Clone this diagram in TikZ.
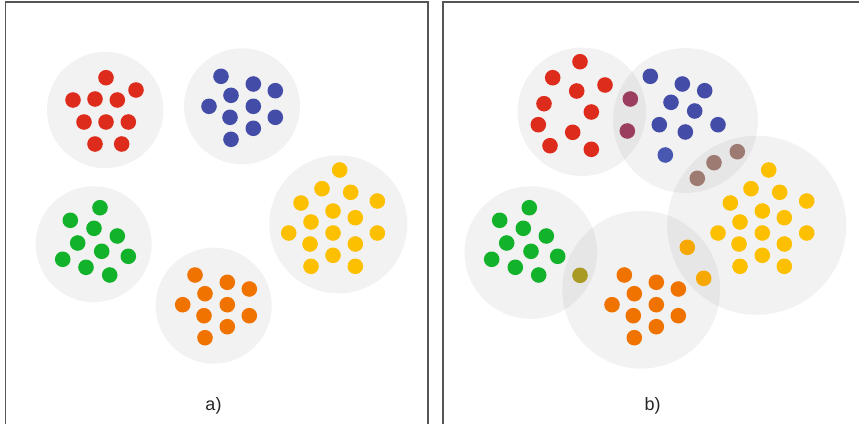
\documentclass[tikz,border=0pt]{standalone}
\usepackage{fontspec}
\setmainfont{Liberation Sans}
\definecolor{cred}{HTML}{DD2C1C}
\definecolor{cblue}{HTML}{434DA8}
\definecolor{cblueb}{HTML}{4858B2}
\definecolor{cgreen}{HTML}{12B22A}
\definecolor{corange}{HTML}{F07300}
\definecolor{cyellow}{HTML}{FCC000}
\definecolor{cpurple}{HTML}{9B3D5E}
\definecolor{cbrown}{HTML}{9E7B72}
\definecolor{colive}{HTML}{A89A25}
\definecolor{camber}{HTML}{F7A800}
\definecolor{frame}{HTML}{555555}
\tikzset{
  blob/.style={fill=black,fill opacity=0.05,draw=none},
  dot/.style={circle,inner sep=0pt,minimum size=15.6pt,draw=none,fill=#1},
  panel/.style={draw=frame,line width=1.1pt},
  lbl/.style={font=\fontsize{18pt}{20pt}\selectfont,text=black!85}
}
\begin{document}
\begin{tikzpicture}[x=1pt,y=-1pt]
\useasboundingbox (0,0) rectangle (859,423);
\begin{scope}
\clip (0,0) rectangle (859,423);
\draw[panel] (5.5,2) rectangle (428,440);
\draw[panel] (443,2) rectangle (880,440);
\end{scope}
% ---------- panel a ----------
\fill[blob] (105.2,110) circle (58.2);
\fill[blob] (242,106.3) circle (58);
\fill[blob] (93.7,244.2) circle (58);
\fill[blob] (213.7,305.7) circle (58);
\fill[blob] (338.3,224.3) circle (69);
\foreach \p [count=\i] in {(106,77.7),(136,90),(73,100),(95,99),(117.3,100),(84,122),(106,122),(128.3,122),(95,144),(121.7,144)}
  \node[dot=cred] (ar\i) at \p {};
\foreach \p [count=\i] in {(221,76.3),(253.3,84),(275.3,90.7),(231,95.3),(209,106.3),(253.3,106.3),(230,117.3),(275.3,117.3),(253.3,128.3),(231,139.3)}
  \node[dot=cblue] (ab\i) at \p {};
\foreach \p [count=\i] in {(100,207.7),(70.3,220.3),(94,228.3),(117.3,236),(77.7,243),(101.7,251.3),(128.3,256.3),(62.7,259.3),(86,267.3),(109.7,275)}
  \node[dot=cgreen] (ag\i) at \p {};
\foreach \p [count=\i] in {(195,275),(227.3,282.3),(249.3,289),(205,293.7),(182.7,304.7),(227.3,304.7),(204,315.7),(249.3,315.7),(227.3,326.7),(205,337.7)}
  \node[dot=corange] (ao\i) at \p {};
\foreach \p [count=\i] in {(339.7,170),(322,188.7),(350.7,192.3),(301,203),(377.3,201),(333,211),(355.3,217.7),(311,222),(288.7,233),(333,233),(377.3,233),(310,244),(355.3,244),(333,255.3),(311,266.3),(355.3,266.3)}
  \node[dot=cyellow] (ay\i) at \p {};
\node[lbl] (la) at (213.5,405.5) {a)};
% ---------- panel b ----------
\fill[blob] (581.8,111.8) circle (64.2);
\fill[blob] (685.5,120.5) circle (72.4);
\fill[blob] (756.7,225.3) circle (89.5);
\fill[blob] (530.8,252.5) circle (66.3);
\fill[blob] (641.2,289.7) circle (78.9);
\foreach \p [count=\i] in {(580,61.7),(552.7,77.7),(605,85),(576.7,91),(544,103.7),(591.3,112),(538.3,124.7),(572.7,132.3),(550,145.7),(591.3,149.3)}
  \node[dot=cred] (br\i) at \p {};
\foreach \p [count=\i] in {(630.3,99),(627.3,131)}
  \node[dot=cpurple] (bp\i) at \p {};
\foreach \p [count=\i] in {(650.3,76.3),(682.3,84),(704.7,90.7),(671,102.3),(694.7,111),(659.3,124.7),(718,124.7),(685.3,132)}
  \node[dot=cblue] (bb\i) at \p {};
\node[dot=cblueb] (bb9) at (665.3,155) {};
\foreach \p [count=\i] in {(737.3,151.7),(714,162.7),(697.3,178.3)}
  \node[dot=cbrown] (bn\i) at \p {};
\foreach \p [count=\i] in {(768.7,170),(751,188.7),(779.7,192.3),(730.3,203),(806.7,201),(762.3,211),(784.3,217.7),(740,222),(718,233),(762.3,233),(806.7,233),(739,244),(784.3,244),(762.3,255.3),(740,266.3),(784.3,266.3)}
  \node[dot=cyellow] (by\i) at \p {};
\foreach \p [count=\i] in {(687.3,247.3),(703.7,278.3)}
  \node[dot=camber] (bm\i) at \p {};
\foreach \p [count=\i] in {(529.3,207.7),(499.7,220.3),(523.3,228.3),(546.3,236),(506.7,243),(531,251.3),(557.7,256.3),(491.7,259.3),(515.3,267.3),(538.7,275)}
  \node[dot=cgreen] (bg\i) at \p {};
\node[dot=colive] (bv1) at (580,275.3) {};
\foreach \p [count=\i] in {(624.3,275),(656.3,282.3),(678.3,289),(634.3,293.7),(612,304.7),(656.3,304.7),(633.3,315.7),(678.3,315.7),(656.3,326.7),(634.3,337.7)}
  \node[dot=corange] (bo\i) at \p {};
\node[lbl] (lb) at (652.7,405.5) {b)};
\end{tikzpicture}
\end{document}
